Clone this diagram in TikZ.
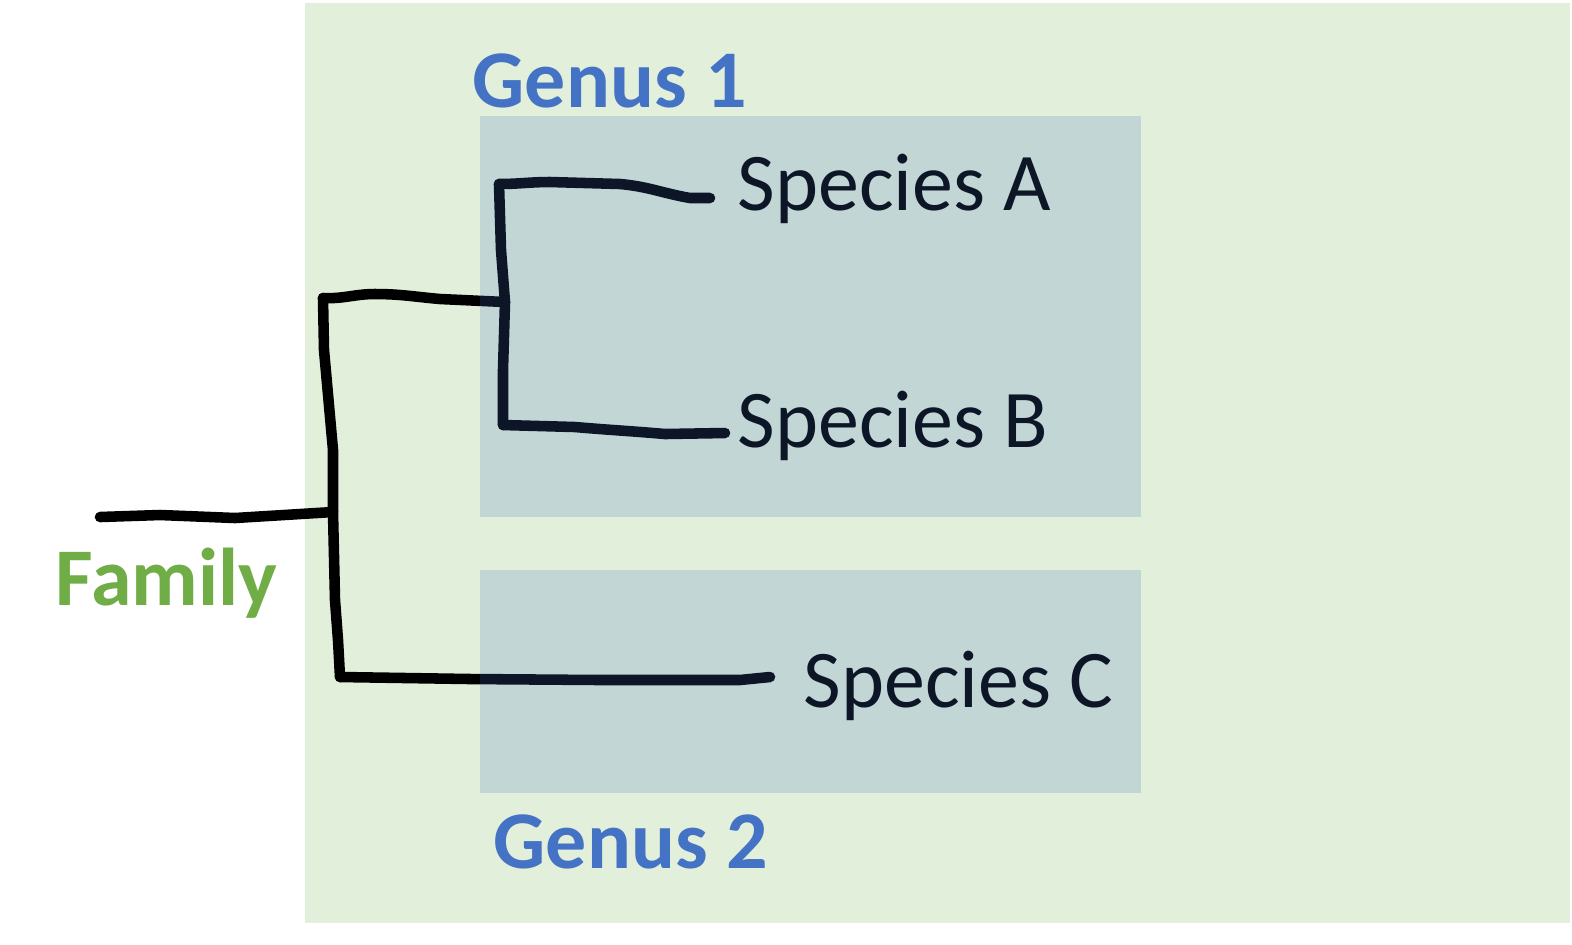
\documentclass[tikz,border=0pt]{standalone}
\usepackage{fontspec}
\setmainfont{Carlito}
\usetikzlibrary{calc}
\definecolor{famgreen}{RGB}{112,173,71}
\definecolor{genblue}{RGB}{68,114,196}
\definecolor{areagreen}{RGB}{226,239,218}

\begin{document}
\begin{tikzpicture}[x=0.01cm, y=-0.01cm,
	famarea/.style = {fill=areagreen},
	genbox/.style = {fill=genblue, fill opacity=0.2},
	branch/.style = {line width=3pt, color=black, line cap=round, line join=round},
	sp/.style = {font=\fontsize{23.3}{28}\selectfont, inner sep=0pt, anchor=base west},
	rank/.style = {font=\fontsize{23.3}{28}\selectfont\bfseries, inner sep=0pt, anchor=base west}
]
\useasboundingbox (0,0) rectangle (1572,944);

% Family area in the background
\fill[famarea] (305,3) rectangle (1570,923);

% Rank labels
\node[rank, text=famgreen] (fam) at (55,605) {Family};
\node[rank, text=genblue] (gen1) at (472,107) {Genus 1};
\node[rank, text=genblue] (gen2) at (493,868) {Genus 2};

% Species (drawn black, the genus boxes tint them)
\node[sp] (spA) at (737,210) {Species A};
\node[sp] (spB) at (737,447) {Species B};
\node[sp] (spC) at (803,707) {Species C};

% Junctions and tips of the tree
\coordinate (root) at (100,517);
\coordinate (famTop) at (323,298);
\coordinate (famMid) at (333,512);
\coordinate (famBot) at (340,677);
\coordinate (g1Top) at (499,184);
\coordinate (g1Mid) at (505,302);
\coordinate (g1Bot) at (503,425);
\coordinate (tipA) at (710,198);
\coordinate (tipB) at (725,433);
\coordinate (tipC) at (770,677);

% Hand drawn tree
\draw[branch] (root) -- (160,515) -- (235,518) -- (famMid);
\draw[branch] (famTop) -- (324,350) -- (333,450) -- (famMid) -- (335,600) -- (338,640) -- (famBot);
\draw[branch] (famTop) to[out=-3,in=180] (375,294) to[out=0,in=175] (440,299) -- (g1Mid);
\draw[branch] (g1Top) -- (501,250) -- (g1Mid) -- (503,370) -- (g1Bot);
\draw[branch] (g1Top) to[out=0,in=180] (550,182) -- (620,184) to[out=-5,in=170] (690,198) -- (tipA);
\draw[branch] (g1Bot) -- (575,427) to[out=-5,in=175] (665,434) -- (tipB);
\draw[branch] (famBot) -- (470,679) -- (600,680) -- (740,680) -- (tipC);

% Genus boxes laid over the tree
\fill[genbox] (480,116) rectangle (1141,517);
\fill[genbox] (480,570) rectangle (1141,793);

\end{tikzpicture}
\end{document}
